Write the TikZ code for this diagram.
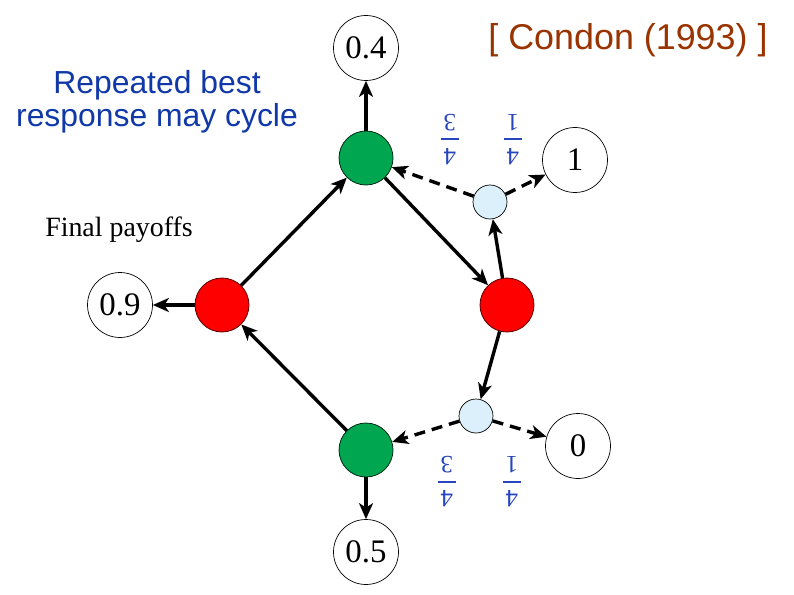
\documentclass[tikz,border=0pt]{standalone}
\usepackage{fontspec}
\setmainfont{Liberation Serif}
\newfontfamily\arialfont{Liberation Sans}
\usetikzlibrary{arrows.meta}
\definecolor{gamegreen}{RGB}{0,166,80}
\definecolor{gamered}{RGB}{255,0,0}
\definecolor{chancefill}{RGB}{220,240,252}
\definecolor{noteblue}{RGB}{16,56,168}
\definecolor{fracblue}{RGB}{40,70,190}
\definecolor{citebrown}{RGB}{153,51,0}
\newcommand\updigit[1]{\rotatebox[origin=c]{180}{#1}}
\tikzset{
  payoff/.style={circle, draw=black, line width=0.7bp, fill=white, minimum size=65bp, inner sep=0pt, font=\fontsize{33}{33}\selectfont},
  gnode/.style={circle, draw=black!75!gamegreen, line width=0.8bp, fill=gamegreen, minimum size=54bp, inner sep=0pt},
  rnode/.style={circle, draw=black!65!gamered, line width=0.8bp, fill=gamered, minimum size=54bp, inner sep=0pt},
  cnode/.style={circle, draw=black, line width=0.7bp, fill=chancefill, minimum size=34bp, inner sep=0pt},
  move/.style={line width=3.4bp, -{Stealth[length=16bp,width=14bp,inset=4.5bp]}},
  chancemove/.style={move, dash pattern=on 11bp off 7bp},
  digit/.style={inner sep=0pt, text=fracblue, font=\fontsize{25}{25}\selectfont},
  fracbar/.style={draw=fracblue, line width=2bp},
}
\begin{document}
\begin{tikzpicture}[x=1bp,y=-1bp]
\useasboundingbox (0,0) rectangle (794,595);
% game nodes
\node[gnode] (gtop) at (366,158) {};
\node[gnode] (gbot) at (366,450) {};
\node[rnode] (rleft) at (222,305) {};
\node[rnode] (rright) at (507,305) {};
\node[cnode] (ctop) at (490,202) {};
\node[cnode] (cbot) at (476,416) {};
% payoffs
\node[payoff] (p04) at (366,48) {0.4};
\node[payoff] (p1) at (575,160) {1};
\node[payoff] (p09) at (120,305) {0.9};
\node[payoff] (p0) at (578,446) {0};
\node[payoff] (p05) at (366,552) {0.5};
% moves
\draw[move] (gtop) -- (p04);
\draw[move] (rleft) -- (gtop);
\draw[move] (gtop) -- (rright);
\draw[move] (rright) -- (ctop);
\draw[move] (rright) -- (cbot);
\draw[move] (gbot) -- (rleft);
\draw[move] (gbot) -- (p05);
\draw[move] (rleft) -- (p09);
\draw[chancemove] (ctop) -- (gtop);
\draw[chancemove] (ctop) -- (p1);
\draw[chancemove] (cbot) -- (gbot);
\draw[chancemove] (cbot) -- (p0);
% probabilities (upper)
\node[digit] (fa1) at (450,123) {\updigit{3}};
\node[digit] (fa2) at (450,157) {\updigit{4}};
\path[fracbar] (441,139) -- (459,139);
\node[digit] (fb1) at (513,123) {\updigit{1}};
\node[digit] (fb2) at (513,157) {\updigit{4}};
\path[fracbar] (504,139) -- (522,139);
% probabilities (lower)
\node[digit] (fc1) at (447,465) {\updigit{3}};
\node[digit] (fc2) at (447,499) {\updigit{4}};
\path[fracbar] (438,482) -- (456,482);
\node[digit] (fd1) at (512,465) {\updigit{1}};
\node[digit] (fd2) at (512,499) {\updigit{4}};
\path[fracbar] (503,482) -- (521,482);
% texts
\node[align=center, text=noteblue, font=\arialfont\fontsize{32}{33}\selectfont] (note) at (157,102) {Repeated best\\response may cycle};
\node[text=citebrown, font=\arialfont\fontsize{36}{36}\selectfont] (cite) at (628,40) {[ Condon (1993) ]};
\node[font=\fontsize{28}{28}\selectfont] (fin) at (119,230) {Final payoffs};
\end{tikzpicture}
\end{document}
